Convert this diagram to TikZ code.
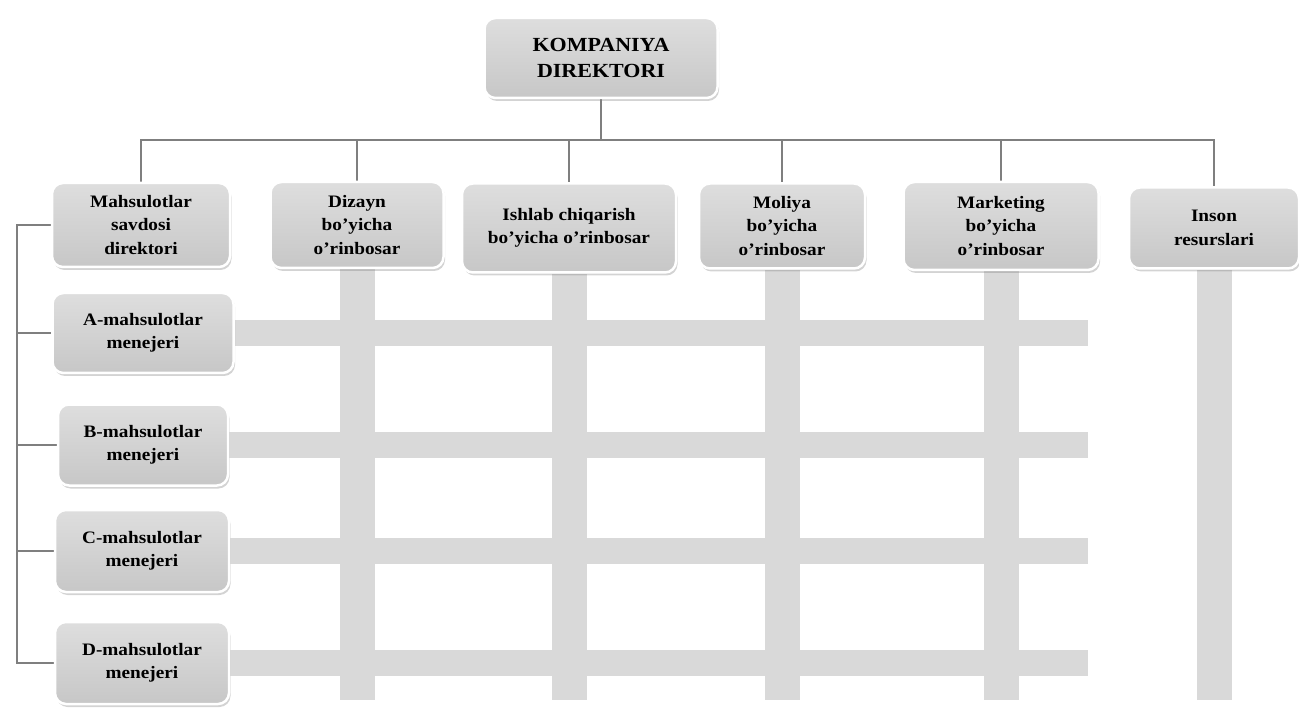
\documentclass[tikz,border=0pt]{standalone}
\usepackage{fontspec}
\setmainfont{Liberation Serif}[FakeStretch=1.1]
\usetikzlibrary{shadows,calc}
\pgfdeclarelayer{background}
\pgfsetlayers{background,main}
\definecolor{barc}{HTML}{D9D9D9}
\definecolor{connc}{HTML}{7F7F7F}
\begin{document}
\begin{tikzpicture}[x=1pt,y=-1pt,
  box/.style={rounded corners=11pt, draw=white, line width=2.5pt,
    top color=gray!26, bottom color=gray!44,
    drop shadow={shadow xshift=1.5pt, shadow yshift=-3pt, opacity=0.35},
    font=\bfseries\fontsize{17.5}{23.5}\selectfont, align=center, inner sep=0pt},
  conn/.style={draw=connc, line width=2.4pt},
  bar/.style={fill=barc}]
\useasboundingbox (0,0) rectangle (1299,711);
\coordinate (bus) at (0,140);
\coordinate (lv) at (17,0);
\coordinate (bot) at (0,700);
\coordinate (hend) at (1088,0);

\path
  node[box, minimum width=233, minimum height=80, font=\bfseries\fontsize{20}{26}\selectfont] (top) at (601,58) {KOMPANIYA\\DIREKTORI}
  node[box, minimum width=178, minimum height=84] (ms) at (141,225) {Mahsulotlar\\savdosi\\direktori}
  node[box, minimum width=173, minimum height=86] (dz) at (357,225) {Dizayn\\bo’yicha\\o’rinbosar}
  node[box, minimum width=214, minimum height=89] (ic) at (569,228) {Ishlab chiqarish\\bo’yicha o’rinbosar}
  node[box, minimum width=166, minimum height=85] (mo) at (782,226) {Moliya\\bo’yicha\\o’rinbosar}
  node[box, minimum width=195, minimum height=88] (mk) at (1001,226) {Marketing\\bo’yicha\\o’rinbosar}
  node[box, minimum width=170, minimum height=81] (in) at (1214,228) {Inson\\resurslari}
  node[box, minimum width=181, minimum height=80] (a) at (143,333) {A-mahsulotlar\\menejeri}
  node[box, minimum width=170, minimum height=81] (b) at (143,445) {B-mahsulotlar\\menejeri}
  node[box, minimum width=174, minimum height=82] (c) at (142,551) {C-mahsulotlar\\menejeri}
  node[box, minimum width=174, minimum height=82] (d) at (142,663) {D-mahsulotlar\\menejeri};

\begin{pgfonlayer}{background}
  % matrix bars
  \foreach \n in {a,b,c,d}
    \fill[bar] ($(\n.east)+(0,-13)$) rectangle ($(\n.east -| hend)+(0,13)$);
  \foreach \n in {dz,ic,mo,mk,in}
    \fill[bar] ($(\n.south)+(-17.5,0)$) rectangle ($(\n.south |- bot)+(17.5,0)$);
  % connectors
  \draw[conn] (top.south) -- (top.south |- bus);
  \foreach \n in {ms,dz,ic,mo,mk,in}
    \draw[conn] (top.south |- bus) -| (\n.north);
  \draw[conn] (ms.west) -- (ms.west -| lv) -- (d.west -| lv) -- (d.west);
  \foreach \n in {a,b,c}
    \draw[conn] (\n.west -| lv) -- (\n.west);
\end{pgfonlayer}
\end{tikzpicture}
\end{document}
